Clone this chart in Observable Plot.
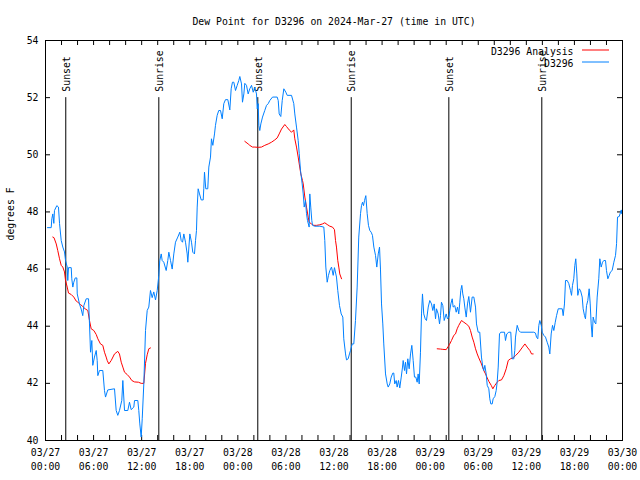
<!DOCTYPE html>
<html><head><meta charset="utf-8">
<script src="https://cdn.jsdelivr.net/npm/d3@7"></script>
<script src="https://cdn.jsdelivr.net/npm/@observablehq/plot@0.6"></script>
<style>body{margin:0;background:#fff}</style>
</head><body><div id="chart"></div>
<script>
const title = "Dew Point for D3296 on 2024-Mar-27 (time in UTC)";
const yLabel = "degrees F";
const startUTC = Date.UTC(2024, 2, 27);
const endUTC = Date.UTC(2024, 2, 30);
const seriesNames = ["D3296 Analysis", "D3296"];
const seriesColors = ["#ff0000", "#0080ff"];
const yDomain = [40, 54];
const yTicks = [40, 42, 44, 46, 48, 50, 52, 54];
const sunTop = 52;
const sunEvents = [["Sunset", 2.53], ["Sunrise", 14.14], ["Sunset", 26.49], ["Sunrise", 38.15], ["Sunset", 50.33], ["Sunrise", 61.93]];

// [hours since 03/27 00:00 UTC, degrees F]
const d3296 = [
[0.25,47.45],[0.71,47.45],[0.79,47.76],[0.91,47.93],[1.04,47.6],[1.12,48.05],[1.41,48.22],[1.62,48.17],[1.75,47.6],[1.96,47.0],
[2.16,46.77],[2.37,46.6],[2.5,46.3],[2.71,46.07],[2.78,45.6],[2.87,46.05],[3.21,46.05],[3.28,45.66],[3.41,45.37],[3.53,45.54],
[3.71,45.69],[3.91,45.69],[3.96,45.13],[4.24,44.78],[4.45,44.6],[4.65,44.37],[4.78,44.72],[5.08,44.96],[5.37,44.96],[5.49,44.08],
[5.62,43.09],[5.78,43.5],[5.9,42.63],[6.11,42.92],[6.33,43.15],[6.45,42.8],[6.53,42.27],[6.74,42.45],[7.15,42.45],[7.36,41.75],
[7.49,41.52],[7.77,41.77],[8.61,41.81],[8.82,41.05],[9.02,40.88],[9.23,41.05],[9.52,41.4],[9.65,42.1],[9.86,41.05],[10.27,41.05],
[10.48,41.34],[10.69,41.08],[11.02,41.17],[11.11,41.4],[11.52,41.4],[11.64,41.05],[11.77,40.58],[11.94,40.12],[12.07,40.76],[12.27,42.0],
[12.48,43.85],[12.69,44.55],[12.89,44.67],[13.1,45.25],[13.31,45.0],[13.51,45.2],[13.73,44.92],[13.94,45.25],[14.14,45.78],[14.26,46.3],
[14.44,46.53],[14.56,46.3],[14.76,46.24],[15.06,45.95],[15.26,46.3],[15.39,46.59],[15.6,46.3],[15.81,46.0],[16.01,46.53],[16.22,46.94],
[16.51,47.12],[16.76,47.29],[16.93,47.0],[17.1,46.94],[17.26,47.23],[17.47,46.94],[17.68,46.53],[17.76,46.24],[18.01,47.23],[18.22,46.94],
[18.38,46.59],[18.59,46.53],[18.72,47.0],[18.84,47.35],[18.93,48.17],[19.05,48.81],[19.22,48.63],[19.43,48.42],[19.68,48.42],[19.75,48.81],
[19.84,49.39],[20.0,48.81],[20.25,48.81],[20.38,49.57],[20.59,49.92],[20.71,50.56],[20.88,50.33],[21.09,50.73],[21.21,51.03],[21.42,51.38],
[21.62,51.55],[21.84,51.55],[22.05,51.26],[22.25,51.79],[22.46,51.93],[22.75,51.93],[23.0,51.57],[23.17,52.31],[23.33,52.54],[23.5,52.54],
[23.71,52.25],[23.92,52.43],[24.12,52.6],[24.25,52.74],[24.46,52.48],[24.58,51.84],[24.75,52.13],[24.87,52.5],[25.08,52.43],[25.29,52.13],
[25.49,52.31],[25.71,52.43],[25.92,52.19],[26.12,52.36],[26.33,52.13],[26.42,51.61],[26.54,51.79],[26.62,51.03],[26.74,50.85],[26.87,51.08],
[27.08,51.32],[27.36,51.55],[27.58,51.73],[27.79,51.79],[27.99,51.9],[28.33,52.02],[28.91,52.02],[29.04,51.9],[29.16,51.43],[29.36,51.34],
[29.54,51.9],[29.74,52.31],[29.99,52.19],[30.16,52.08],[30.7,52.08],[30.98,51.79],[31.11,51.43],[31.32,50.97],[31.53,50.5],[31.66,50.04],
[31.82,49.45],[32.03,48.98],[32.16,48.63],[32.28,48.17],[32.44,48.4],[32.57,47.94],[32.69,47.7],[32.9,47.47],[32.98,48.63],[33.1,48.17],
[33.23,47.7],[33.32,47.53],[33.6,47.5],[34.23,47.5],[34.73,47.47],[34.85,47.0],[34.98,46.07],[35.15,45.54],[35.31,45.78],[35.48,45.95],
[35.69,46.07],[35.9,45.78],[36.06,46.05],[36.31,45.72],[36.47,45.25],[36.69,44.72],[36.9,44.43],[37.1,44.32],[37.22,43.56],[37.44,43.03],
[37.56,42.82],[37.77,42.86],[37.93,43.03],[38.06,43.15],[38.27,43.38],[38.47,43.38],[38.68,44.2],[38.89,45.37],[39.09,47.12],[39.31,47.94],
[39.43,48.22],[39.56,48.34],[39.68,48.22],[39.81,48.4],[39.97,48.57],[40.14,47.94],[40.3,47.53],[40.47,47.35],[40.64,47.29],[40.8,47.18],
[40.97,46.77],[41.18,46.48],[41.34,46.07],[41.52,46.53],[41.68,46.77],[41.8,46.0],[41.93,44.78],[42.09,44.08],[42.21,43.38],[42.43,42.33],
[42.64,41.98],[42.76,41.87],[42.96,41.98],[43.14,42.22],[43.34,42.36],[43.46,42.36],[43.58,41.98],[43.76,42.1],[43.88,41.87],[44.05,42.1],
[44.21,41.84],[44.39,42.22],[44.55,42.57],[44.63,42.8],[44.8,42.45],[44.92,42.74],[45.05,42.33],[45.21,42.86],[45.38,42.51],[45.55,43.03],
[45.71,43.33],[45.88,42.8],[46.04,42.22],[46.21,42.22],[46.38,42.04],[46.5,42.33],[46.63,41.98],[46.79,43.09],[46.92,44.43],[47.04,45.13],
[47.2,44.43],[47.38,44.26],[47.54,44.2],[47.76,44.67],[47.95,44.9],[48.17,44.78],[48.33,44.55],[48.5,44.78],[48.67,44.26],[48.79,44.61],
[49.0,44.43],[49.17,44.08],[49.29,44.37],[49.41,44.84],[49.58,44.72],[49.75,44.2],[50.0,44.43],[50.16,44.26],[50.33,44.32],[50.45,44.55],
[50.58,44.78],[50.75,44.96],[50.87,44.67],[51.07,44.72],[51.25,44.49],[51.41,44.67],[51.57,44.43],[51.7,44.84],[51.82,45.25],[51.95,45.43],
[52.07,45.13],[52.2,44.96],[52.32,44.67],[52.5,44.32],[52.66,44.78],[52.82,45.04],[53.03,44.49],[53.24,45.02],[53.45,45.02],[53.66,44.67],
[53.78,44.08],[53.99,43.79],[54.19,43.79],[54.4,42.92],[54.57,42.57],[54.69,42.45],[54.82,42.63],[54.99,42.33],[55.12,41.93],[55.32,41.81],
[55.44,41.46],[55.57,41.28],[55.74,41.28],[55.86,41.46],[56.07,41.54],[56.24,41.75],[56.36,42.04],[56.49,42.57],[56.65,43.73],[56.81,43.79],
[57.28,43.79],[57.4,43.5],[57.56,43.73],[57.81,43.79],[58.06,43.79],[58.23,42.86],[58.44,42.86],[58.56,43.15],[58.65,43.62],[58.86,44.03],
[59.06,43.85],[59.27,43.79],[60.93,43.79],[61.14,43.76],[61.27,43.62],[61.43,43.56],[61.56,44.03],[61.68,44.2],[61.86,44.03],[61.98,43.79],
[62.18,43.68],[62.39,43.62],[62.6,43.44],[62.8,43.27],[62.93,43.03],[63.1,43.73],[63.27,44.03],[63.43,43.85],[63.61,44.14],[63.77,44.37],
[63.98,44.61],[64.48,44.61],[64.6,44.37],[64.76,44.78],[64.89,45.6],[65.1,45.6],[65.3,45.49],[65.51,45.25],[65.64,45.08],[65.76,45.43],
[65.92,45.66],[66.05,46.13],[66.17,46.36],[66.3,45.83],[66.42,45.08],[66.6,45.31],[66.76,45.25],[66.97,45.02],[67.09,44.61],[67.26,44.37],
[67.38,44.26],[67.51,44.72],[67.67,44.9],[67.84,45.31],[67.97,44.78],[68.09,44.08],[68.22,43.62],[68.34,44.32],[68.51,44.14],[68.67,44.08],
[68.84,45.02],[69.04,45.66],[69.17,46.36],[69.34,46.07],[69.51,46.24],[69.67,46.3],[69.88,46.3],[70.0,45.95],[70.17,45.66],[70.34,45.78],
[70.5,45.9],[70.71,45.95],[70.92,46.24],[71.13,46.48],[71.26,46.89],[71.38,47.82],[71.59,47.84],[71.76,47.99],[71.85,48.07],[71.9,47.94]
];

// [hours since 03/27 00:00 UTC, degrees F]; null = gap between analysis runs
const d3296Analysis = [
[0.91,47.12],[1.06,47.1],[1.34,46.88],[1.53,46.65],[1.75,46.36],[1.96,46.13],[2.16,46.07],[2.37,45.9],[2.5,45.6],[2.71,45.37],
[2.87,45.16],[3.21,45.11],[3.53,45.02],[3.83,44.88],[4.03,44.84],[4.37,44.76],[4.65,44.69],[4.95,44.61],[5.28,44.55],[5.49,44.2],
[5.7,43.91],[6.03,43.85],[6.33,43.71],[6.53,43.56],[6.86,43.38],[7.15,43.33],[7.36,43.09],[7.57,42.92],[7.7,42.8],[7.9,42.68],
[8.2,42.8],[8.61,43.03],[9.02,43.12],[9.23,43.03],[9.45,42.74],[9.65,42.57],[9.86,42.39],[10.19,42.31],[10.48,42.22],[10.77,42.1],
[11.11,42.05],[11.6,42.04],[11.94,42.0],[12.27,42.0],[12.48,42.7],[12.69,43.0],[12.89,43.21],[13.1,43.24],
[18.0,null],
[24.87,50.47],[25.29,50.38],[25.49,50.33],[25.83,50.27],[26.12,50.27],[26.54,50.26],[26.95,50.27],[27.36,50.33],[27.79,50.38],[28.2,50.44],
[28.61,50.52],[28.91,50.59],[29.16,50.73],[29.45,50.9],[29.86,51.06],[30.07,50.99],[30.41,50.87],[30.7,50.79],[30.98,50.87],[31.11,50.56],
[31.32,50.27],[31.53,49.92],[31.66,49.68],[31.86,49.33],[32.07,49.1],[32.16,48.98],[32.36,48.52],[32.57,48.17],[32.78,47.82],[32.9,47.64],
[33.19,47.58],[33.48,47.53],[33.82,47.53],[34.23,47.55],[34.56,47.58],[34.85,47.62],[35.15,47.56],[35.48,47.5],[35.81,47.47],[36.06,47.38],
[36.19,47.0],[36.31,46.77],[36.47,46.3],[36.6,46.07],[36.72,45.83],[36.94,45.66],
[42.0,null],
[48.88,43.21],[49.29,43.2],[49.58,43.19],[50.0,43.18],[50.25,43.29],[50.41,43.36],[50.66,43.5],[50.95,43.68],[51.16,43.73],[51.37,43.91],
[51.57,44.03],[51.91,44.2],[52.2,44.14],[52.5,44.08],[52.82,44.0],[53.03,43.85],[53.24,43.62],[53.45,43.44],[53.66,43.21],[53.87,43.03],
[54.07,42.89],[54.4,42.68],[54.69,42.45],[54.91,42.33],[55.12,42.19],[55.32,42.07],[55.62,41.93],[55.82,41.81],[56.07,41.93],[56.36,42.04],
[56.57,42.1],[56.9,42.12],[57.19,42.27],[57.49,42.51],[57.74,42.8],[58.03,42.86],[58.31,42.89],[58.65,42.97],[59.06,43.09],[59.45,43.24],
[59.82,43.38],[60.1,43.27],[60.44,43.15],[60.65,43.03],[60.85,43.03]
];

const toDate = h => new Date(startUTC + h * 3600000);
const font = "'DejaVu Sans Mono', monospace";
const fs = "9.8px";
const margin = {top: 40, right: 18, bottom: 40, left: 45};
const W = 640, H = 480;
const fw = W - margin.left - margin.right;
const fh = H - margin.top - margin.bottom;
const tickLen = 5;
const minorTicks = d3.utcHour.every(2).range(new Date(startUTC), new Date(endUTC + 1));

const plot = Plot.plot({
  width: W, height: H,
  marginTop: margin.top, marginRight: margin.right, marginBottom: margin.bottom, marginLeft: margin.left,
  style: {fontFamily: font, fontSize: fs, background: "#fff", color: "#000", overflow: "visible"},
  x: {type: "utc", domain: [new Date(startUTC), new Date(endUTC)], label: null},
  y: {domain: yDomain, label: null},
  marks: [
    Plot.axisX({ticks: d3.utcHour.every(6), tickSize: 0, tickPadding: 9, tickFormat: d3.utcFormat("%m/%d"), label: null, fontSize: fs}),
    Plot.axisX({ticks: d3.utcHour.every(6), tickSize: 0, tickPadding: 23, tickFormat: d3.utcFormat("%H:%M"), label: null, fontSize: fs}),
    Plot.axisY({ticks: yTicks, tickSize: 0, tickPadding: 7, label: null, fontSize: fs}),
    Plot.tickX(minorTicks, {x: d => d, insetTop: fh - tickLen, stroke: "#000"}),
    Plot.tickX(minorTicks, {x: d => d, insetBottom: fh - tickLen, stroke: "#000"}),
    Plot.tickY(yTicks, {y: d => d, insetRight: fw - tickLen, stroke: "#000"}),
    Plot.tickY(yTicks, {y: d => d, insetLeft: fw - tickLen, stroke: "#000"}),
    Plot.ruleX(sunEvents, {x: d => toDate(d[1]), y1: yDomain[0], y2: sunTop, stroke: "#000"}),
    Plot.text(sunEvents, {x: d => toDate(d[1]), y: sunTop, text: d => d[0], rotate: -90, textAnchor: "start", dy: -6, dx: 1, fill: "#000"}),
    Plot.line(d3296Analysis, {x: d => toDate(d[0]), y: d => d[1], stroke: seriesColors[0], strokeWidth: 1}),
    Plot.line(d3296, {x: d => toDate(d[0]), y: d => d[1], stroke: seriesColors[1], strokeWidth: 1}),
    Plot.frame({stroke: "#000"}),
    Plot.text([title], {frameAnchor: "top", dy: -22, fill: "#000"}),
    Plot.text([yLabel], {frameAnchor: "left", rotate: -90, dx: -35, fill: "#000"}),
    Plot.text([seriesNames[0]], {frameAnchor: "top-right", dx: -49, dy: 8, textAnchor: "end", fill: "#000"}),
    Plot.text([seriesNames[1]], {frameAnchor: "top-right", dx: -49, dy: 20, textAnchor: "end", fill: "#000"})
  ]
});

// legend sample lines (layout, relative to frame)
const svg = d3.select(plot);
const right = W - margin.right;
seriesColors.forEach((c, i) => {
  svg.append("line")
    .attr("x1", right - 40).attr("x2", right - 13)
    .attr("y1", margin.top + 10 + 12 * i).attr("y2", margin.top + 10 + 12 * i)
    .attr("stroke", c).attr("stroke-width", 1);
});
document.getElementById("chart").append(plot);
</script>
</body></html>
